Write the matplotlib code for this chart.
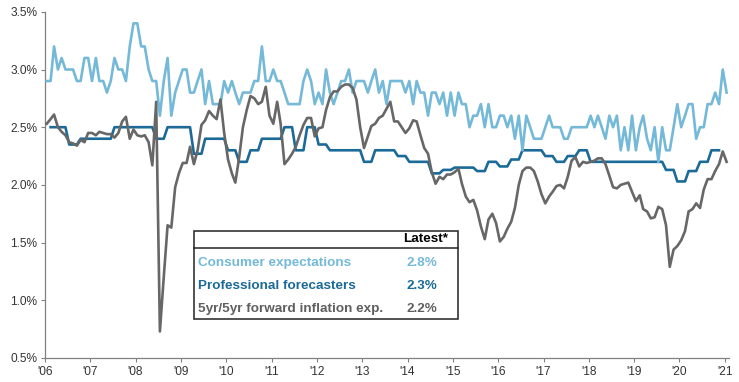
import matplotlib
matplotlib.use("Agg")
import matplotlib.pyplot as plt
from matplotlib.patches import Rectangle
from matplotlib.lines import Line2D
import numpy as np
import pandas as pd

plt.rcParams['font.family'] = ['Liberation Sans', 'DejaVu Sans']

# ---------------- data (monthly, Jan 2006 - Jan 2021) ----------------
start_month = "2006-01-01"
n_months = 181

consumer = [
    2.9, 2.9, 3.2, 3.0, 3.1, 3.0, 3.0, 3.0, 2.9, 2.9,
    3.1, 3.1, 2.9, 3.1, 2.9, 2.9, 2.8, 2.9, 3.1, 3.0,
    3.0, 2.9, 3.2, 3.4, 3.4, 3.2, 3.2, 3.0, 2.9, 2.9,
    2.6, 2.9, 3.1, 2.6, 2.8, 2.9, 3.0, 3.0, 2.8, 2.8,
    2.9, 3.0, 2.7, 2.9, 2.7, 2.7, 2.7, 2.9, 2.8, 2.9,
    2.8, 2.7, 2.8, 2.8, 2.8, 2.9, 2.9, 3.2, 2.9, 2.9,
    3.0, 2.9, 2.9, 2.8, 2.7, 2.7, 2.7, 2.7, 2.9, 3.0,
    2.9, 2.7, 2.8, 2.7, 3.0, 2.8, 2.7, 2.8, 2.9, 2.9,
    3.0, 2.8, 2.9, 2.9, 2.9, 2.8, 2.9, 3.0, 2.8, 2.9,
    2.7, 2.9, 2.9, 2.9, 2.9, 2.8, 2.9, 2.7, 2.9, 2.8,
    2.8, 2.6, 2.8, 2.8, 2.7, 2.8, 2.6, 2.8, 2.6, 2.8,
    2.7, 2.7, 2.5, 2.6, 2.6, 2.7, 2.5, 2.7, 2.5, 2.5,
    2.6, 2.6, 2.5, 2.6, 2.4, 2.6, 2.3, 2.6, 2.5, 2.4,
    2.4, 2.4, 2.5, 2.6, 2.5, 2.5, 2.5, 2.4, 2.4, 2.5,
    2.5, 2.5, 2.5, 2.5, 2.6, 2.5, 2.6, 2.5, 2.4, 2.6,
    2.5, 2.6, 2.3, 2.5, 2.3, 2.6, 2.3, 2.5, 2.6, 2.4,
    2.3, 2.5, 2.2, 2.5, 2.3, 2.3, 2.5, 2.7, 2.5, 2.6,
    2.7, 2.7, 2.4, 2.5, 2.5, 2.7, 2.7, 2.8, 2.7, 3.0, 2.8,
]

professional = [
    None,
    2.5, 2.5, 2.5, 2.5, 2.5,
    2.35, 2.35, 2.35,
    2.4, 2.4, 2.4, 2.4, 2.4, 2.4, 2.4, 2.4, 2.4,
    2.5, 2.5, 2.5, 2.5, 2.5, 2.5, 2.5, 2.5, 2.5, 2.5, 2.5,
    2.4, 2.4, 2.4,
    2.5, 2.5, 2.5, 2.5, 2.5, 2.5, 2.5,
    2.27, 2.27, 2.27,
    2.4, 2.4, 2.4, 2.4, 2.4, 2.4,
    2.3, 2.3, 2.3,
    2.2, 2.2, 2.2,
    2.3, 2.3, 2.3,
    2.4, 2.4, 2.4, 2.4, 2.4, 2.4,
    2.5, 2.5, 2.5,
    2.3, 2.3, 2.3,
    2.5, 2.5, 2.5,
    2.35, 2.35, 2.35,
    2.3, 2.3, 2.3, 2.3, 2.3, 2.3, 2.3, 2.3, 2.3,
    2.2, 2.2, 2.2,
    2.3, 2.3, 2.3, 2.3, 2.3, 2.3,
    2.25, 2.25, 2.25,
    2.2, 2.2, 2.2, 2.2, 2.2, 2.2,
    2.1, 2.1, 2.1,
    2.13, 2.13, 2.13,
    2.15, 2.15, 2.15, 2.15, 2.15, 2.15,
    2.12, 2.12, 2.12,
    2.2, 2.2, 2.2,
    2.16, 2.16, 2.16,
    2.22, 2.22, 2.22,
    2.3, 2.3, 2.3, 2.3, 2.3, 2.3,
    2.25, 2.25, 2.25,
    2.2, 2.2, 2.2,
    2.25, 2.25, 2.25,
    2.3, 2.3, 2.3,
    2.2, 2.2, 2.2, 2.2, 2.2, 2.2, 2.2, 2.2, 2.2, 2.2,
    2.2, 2.2, 2.2, 2.2, 2.2, 2.2, 2.2, 2.2, 2.2, 2.2,
    2.13, 2.13, 2.13,
    2.03, 2.03, 2.03,
    2.12, 2.12, 2.12,
    2.2, 2.2, 2.2,
    2.3, 2.3, 2.3,
    None, None,
]

fivefive = [
    2.53, 2.57, 2.61, 2.50, 2.46, 2.43, 2.37, 2.36, 2.34, 2.39,
    2.37, 2.45, 2.45, 2.43, 2.46, 2.45, 2.44, 2.44, 2.41, 2.45,
    2.55, 2.59, 2.40, 2.48, 2.43, 2.42, 2.43, 2.37, 2.17, 2.72,
    0.73, 1.20, 1.65, 1.63, 1.98, 2.10, 2.19, 2.19, 2.33, 2.18,
    2.30, 2.52, 2.56, 2.64, 2.60, 2.57, 2.74, 2.45, 2.22, 2.10,
    2.02, 2.24, 2.50, 2.65, 2.77, 2.75, 2.70, 2.72, 2.85, 2.60,
    2.53, 2.72, 2.53, 2.18, 2.22, 2.27, 2.33, 2.43, 2.52, 2.58,
    2.58, 2.42, 2.49, 2.50, 2.65, 2.76, 2.81, 2.81, 2.85, 2.87,
    2.87, 2.84, 2.74, 2.50, 2.32, 2.42, 2.51, 2.53, 2.58, 2.60,
    2.66, 2.72, 2.55, 2.55, 2.50, 2.45, 2.49, 2.56, 2.55, 2.43,
    2.32, 2.27, 2.11, 2.01, 2.07, 2.05, 2.09, 2.09, 2.11, 2.14,
    2.01, 1.90, 1.85, 1.87, 1.78, 1.64, 1.53, 1.70, 1.75, 1.67,
    1.51, 1.55, 1.62, 1.68, 1.80, 2.00, 2.12, 2.15, 2.15, 2.12,
    2.03, 1.92, 1.84, 1.90, 1.94, 1.99, 2.00, 1.97, 2.07, 2.21,
    2.24, 2.16, 2.20, 2.19, 2.20, 2.21, 2.23, 2.23, 2.18, 2.08,
    1.98, 1.97, 2.00, 2.01, 2.02, 1.94, 1.86, 1.91, 1.79, 1.77,
    1.71, 1.72, 1.81, 1.79, 1.65, 1.29, 1.44, 1.47, 1.52, 1.60,
    1.77, 1.79, 1.84, 1.80, 1.96, 2.05, 2.05, 2.12, 2.18, 2.29, 2.20,
]

series_labels = ["Consumer expectations", "Professional forecasters",
                 "5yr/5yr forward inflation exp."]
latest_labels = ["2.8%", "2.3%", "2.2%"]
year_ticks = list(range(2006, 2022))
y_ticks = [0.5, 1.0, 1.5, 2.0, 2.5, 3.0, 3.5]

# ---------------- styling ----------------
c_light = "#74B9D8"
c_dark = "#1B6A98"
c_gray = "#676767"

W, H = 739, 382
fig = plt.figure(figsize=(W / 100, H / 100), dpi=100)
fig.patch.set_facecolor("white")

ax_l, ax_r, ax_t, ax_b = 45, 728.7, 11.8, 358
ax = fig.add_axes([ax_l / W, 1 - ax_b / H, (ax_r - ax_l) / W, (ax_b - ax_t) / H])

dates = pd.date_range(start_month, periods=n_months, freq="MS") + pd.Timedelta(days=14)
prof = np.array([np.nan if v is None else v for v in professional], dtype=float)

ax.plot(dates, prof, color=c_dark, lw=1.9, zorder=3)
ax.plot(dates, consumer, color=c_light, lw=1.9, zorder=4)
ax.plot(dates, fivefive, color=c_gray, lw=1.9, zorder=5)

ax.set_ylim(0.5, 3.5)
ax.set_yticks(y_ticks)
ax.set_yticklabels([f"{v:.1f}%" for v in y_ticks])
ax.set_xlim(pd.Timestamp("2006-01-01"), pd.Timestamp("2021-02-01"))
ax.set_xticks([pd.Timestamp(f"{y}-01-01") for y in year_ticks])
ax.set_xticklabels(["'" + str(y)[2:] for y in year_ticks])

for s in ["top", "right"]:
    ax.spines[s].set_visible(False)
for s in ["left", "bottom"]:
    ax.spines[s].set_color("#808080")
    ax.spines[s].set_linewidth(0.9)
ax.tick_params(axis="both", direction="out", length=3, width=0.8, color="#808080",
               labelsize=8.6, labelcolor="#333333", pad=2.5)
ax.set_facecolor("white")

# ---------------- legend table ----------------
def fx(x):
    return x / W

def fy(y):
    return 1 - y / H

bx0, bx1, by0, by1 = 194, 458, 231, 319
box = Rectangle((fx(bx0), fy(by1)), fx(bx1) - fx(bx0), fy(by0) - fy(by1),
                transform=fig.transFigure, facecolor="white", edgecolor="#222222",
                linewidth=1.1, zorder=10)
fig.patches.append(box)
fig.lines.append(Line2D([fx(bx0), fx(bx1)], [fy(248.3), fy(248.3)],
                        transform=fig.transFigure, color="#222222", lw=1.1, zorder=11))

fs = 9.7
fig.text(fx(448.5), fy(239.5), "Latest*", ha="right", va="center", fontsize=fs,
         fontweight="bold", color="black", zorder=12)
rows_y = [262.7, 286.0, 309.3]
cols = [c_light, c_dark, "#5f5f5f"]
for lab, val, yy, cc in zip(series_labels, latest_labels, rows_y, cols):
    fig.text(fx(197.5), fy(yy), lab, ha="left", va="center", fontsize=fs,
             fontweight="bold", color=cc, zorder=12)
    fig.text(fx(437.5), fy(yy), val, ha="right", va="center", fontsize=fs,
             fontweight="bold", color=cc, zorder=12)

fig.savefig("out.png", dpi=100, facecolor="white")
